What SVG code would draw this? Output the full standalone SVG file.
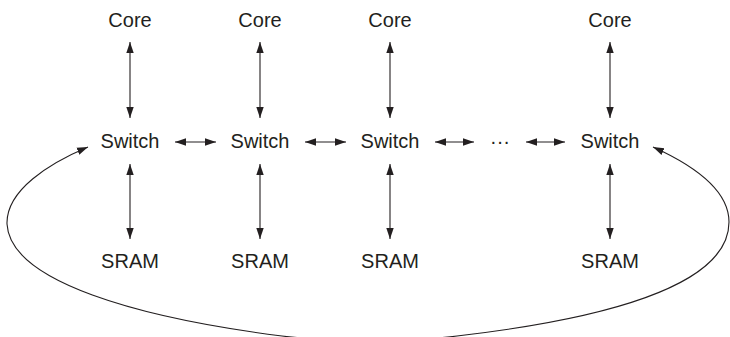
<svg xmlns="http://www.w3.org/2000/svg" width="730" height="337" viewBox="0 0 730 337">
<style>
text{font-family:"Liberation Sans",Arial,sans-serif;font-size:20px;fill:#231f20;text-anchor:middle}
.c{fill:none;stroke:#231f20;stroke-width:1.1}
</style>
<defs>
<marker id="ah" markerUnits="userSpaceOnUse" markerWidth="13" markerHeight="10" refX="11" refY="4" orient="auto-start-reverse" viewBox="0 0 13 8">
<path d="M0,0.3 L11,4 L0,7.7 Z" fill="#231f20"/>
</marker>
</defs>
<rect width="730" height="337" fill="#fff"/>
<g id="core1"><text x="130" y="27">Core</text></g>
<g id="core2"><text x="260" y="27">Core</text></g>
<g id="core3"><text x="390" y="27">Core</text></g>
<g id="core4"><text x="610" y="27">Core</text></g>
<g id="switch1"><text x="130" y="148">Switch</text></g>
<g id="switch2"><text x="260" y="148">Switch</text></g>
<g id="switch3"><text x="390" y="148">Switch</text></g>
<g id="ellipsis"><text x="500" y="148">···</text></g>
<g id="switch4"><text x="610" y="148">Switch</text></g>
<g id="sram1"><text x="130" y="268">SRAM</text></g>
<g id="sram2"><text x="260" y="268">SRAM</text></g>
<g id="sram3"><text x="390" y="268">SRAM</text></g>
<g id="sram4"><text x="610" y="268">SRAM</text></g>
<g id="connectors">
<path class="c" d="M130,42 V118" marker-start="url(#ah)" marker-end="url(#ah)"/>
<path class="c" d="M260,42 V118" marker-start="url(#ah)" marker-end="url(#ah)"/>
<path class="c" d="M390,42 V118" marker-start="url(#ah)" marker-end="url(#ah)"/>
<path class="c" d="M610,42 V118" marker-start="url(#ah)" marker-end="url(#ah)"/>
<path class="c" d="M130,164 V239" marker-start="url(#ah)" marker-end="url(#ah)"/>
<path class="c" d="M260,164 V239" marker-start="url(#ah)" marker-end="url(#ah)"/>
<path class="c" d="M390,164 V239" marker-start="url(#ah)" marker-end="url(#ah)"/>
<path class="c" d="M610,164 V239" marker-start="url(#ah)" marker-end="url(#ah)"/>
<path class="c" d="M175,142 H216" marker-start="url(#ah)" marker-end="url(#ah)"/>
<path class="c" d="M305,142 H346" marker-start="url(#ah)" marker-end="url(#ah)"/>
<path class="c" d="M435,142 H474" marker-start="url(#ah)" marker-end="url(#ah)"/>
<path class="c" d="M526,142 H565" marker-start="url(#ah)" marker-end="url(#ah)"/>
<path class="c" d="M88,147 C50,163 6,190 7,224 C10,282 140,318 282,336 C320,341 420,341 457,336 C595,320 729,288 729,222 C729,190 695,166 653,147" marker-start="url(#ah)" marker-end="url(#ah)"/>
</g>
</svg>
